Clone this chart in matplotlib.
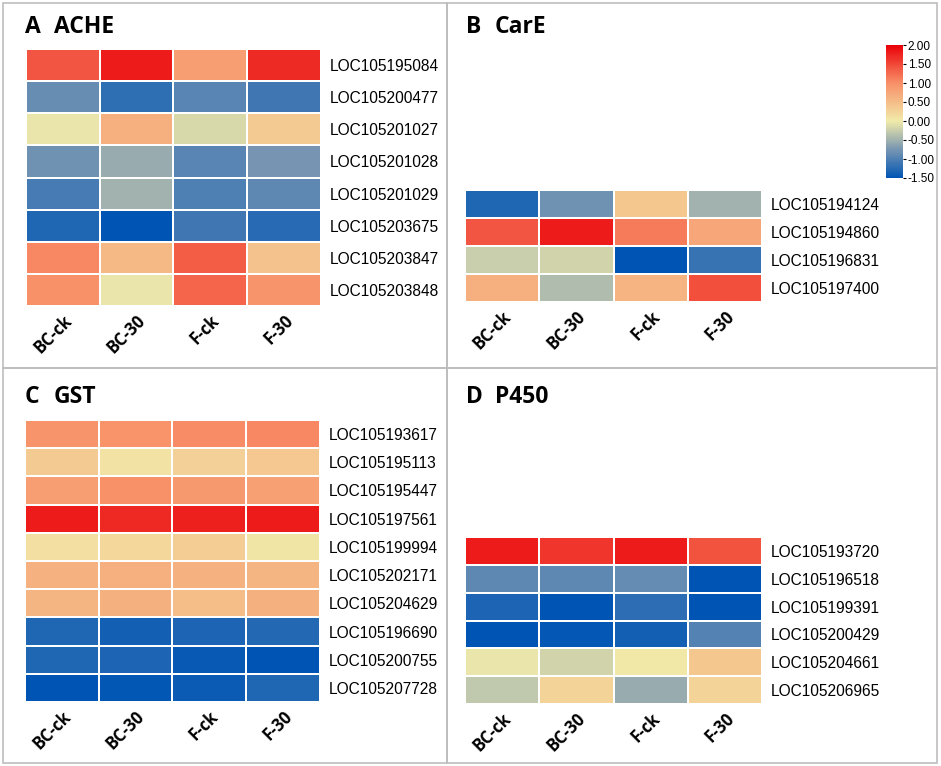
import numpy as np
import matplotlib
matplotlib.use("Agg")
import matplotlib.pyplot as plt
import matplotlib.transforms as mtrans
from matplotlib.colors import LinearSegmentedColormap
from matplotlib.patches import Rectangle

W, H = 941, 766
samples = ["BC-ck", "BC-30", "F-ck", "F-30"]

ache_genes = ["LOC105195084", "LOC105200477", "LOC105201027", "LOC105201028",
              "LOC105201029", "LOC105203675", "LOC105203847", "LOC105203848"]
ache_vals = [[1.40, 1.80, 0.85, 1.70],
             [-0.85, -1.20, -0.95, -1.10],
             [-0.05, 0.65, -0.15, 0.35],
             [-0.80, -0.55, -0.95, -0.75],
             [-1.05, -0.50, -1.00, -0.90],
             [-1.30, -1.50, -1.10, -1.25],
             [1.05, 0.55, 1.35, 0.45],
             [1.00, -0.05, 1.30, 0.95]]

care_genes = ["LOC105194124", "LOC105194860", "LOC105196831", "LOC105197400"]
care_vals = [[-1.30, -0.80, 0.40, -0.50],
             [1.40, 1.80, 1.15, 0.75],
             [-0.25, -0.20, -1.50, -1.15],
             [0.65, -0.40, 0.60, 1.45]]

gst_genes = ["LOC105193617", "LOC105195113", "LOC105195447", "LOC105197561",
             "LOC105199994", "LOC105202171", "LOC105204629", "LOC105196690",
             "LOC105200755", "LOC105207728"]
gst_vals = [[0.95, 0.97, 1.02, 1.05],
            [0.35, 0.08, 0.28, 0.38],
            [0.85, 1.00, 0.90, 0.82],
            [1.80, 1.72, 1.78, 1.80],
            [0.12, 0.22, 0.32, 0.05],
            [0.62, 0.66, 0.62, 0.58],
            [0.58, 0.64, 0.50, 0.64],
            [-1.30, -1.38, -1.32, -1.28],
            [-1.30, -1.32, -1.45, -1.50],
            [-1.50, -1.48, -1.42, -1.30]]

p450_genes = ["LOC105193720", "LOC105196518", "LOC105199391", "LOC105200429",
              "LOC105204661", "LOC105206965"]
p450_vals = [[1.80, 1.62, 1.80, 1.42],
             [-0.90, -0.90, -0.87, -1.50],
             [-1.32, -1.50, -1.22, -1.50],
             [-1.50, -1.47, -1.38, -0.97],
             [-0.05, -0.20, 0.02, 0.40],
             [-0.30, 0.25, -0.55, 0.25]]

cbar_ticks = [-1.5, -1.0, -0.5, 0.0, 0.5, 1.0, 1.5, 2.0]

vmin, vmax = -1.5, 2.0
z = (0 - vmin) / (vmax - vmin)
cmap = LinearSegmentedColormap.from_list(
    "byr", [(0, "#0055b4"), (z * 0.5, "#7896b2"), (z, "#f1eaa9"),
            (z + (1 - z) * 0.5, "#f89068"), (1, "#ea0008")])

fig = plt.figure(figsize=(W / 100, H / 100), dpi=100)


def px(x0, y0, x1, y1):
    return [x0 / W, 1 - y1 / H, (x1 - x0) / W, (y1 - y0) / H]


# panel frames
for (x0, y0, x1, y1) in [(3, 3, 447, 368), (447, 3, 937, 368),
                         (3, 368, 447, 763), (447, 368, 937, 763)]:
    fig.add_artist(Rectangle((x0 / W, 1 - y1 / H), (x1 - x0) / W, (y1 - y0) / H,
                             transform=fig.transFigure, fill=False,
                             edgecolor="#bdbdbd", linewidth=1.2))

shift = mtrans.ScaledTranslation(10 / 100, 0, fig.dpi_scale_trans)


def heat(box, vals, genes, letter, name, title_pos):
    ax = fig.add_axes(px(*box))
    data = np.array(vals)
    m = ax.pcolormesh(data, cmap=cmap, vmin=vmin, vmax=vmax,
                      edgecolors="white", linewidth=1.2)
    ax.set_xlim(0, data.shape[1])
    ax.set_ylim(data.shape[0], 0)
    ax.yaxis.tick_right()
    ax.set_yticks(np.arange(len(genes)) + 0.5)
    ax.set_yticklabels(genes, family="Liberation Sans", fontsize=11.2)
    ax.set_xticks(np.arange(len(samples)) + 0.5)
    ax.set_xticklabels(samples, rotation=45, ha="right", va="top",
                       rotation_mode="anchor", family="Open Sans",
                       fontweight="bold", fontsize=12)
    for lab in ax.get_xticklabels():
        lab.set_transform(lab.get_transform() + shift)
    ax.tick_params(length=0, pad=6)
    ax.tick_params(axis="x", pad=4)
    for s in ax.spines.values():
        s.set_visible(False)
    tx, ty = title_pos
    fig.text(tx / W, 1 - ty / H, letter, family="Open Sans", fontweight="bold",
             fontsize=16.5, va="center")
    fig.text((tx + 29) / W, 1 - ty / H, name, family="Open Sans",
             fontweight="bold", fontsize=16.5, va="center")
    return m


heat((26, 49, 321, 306), ache_vals, ache_genes, "A", "ACHE", (25, 27))
m = heat((465, 190, 762, 302), care_vals, care_genes, "B", "CarE", (466, 27))
heat((25, 420, 320, 702), gst_vals, gst_genes, "C", "GST", (25, 397))
heat((465, 537, 762, 704), p450_vals, p450_genes, "D", "P450", (466, 397))

cax = fig.add_axes(px(886, 45, 903, 178))
cb = fig.colorbar(m, cax=cax, ticks=cbar_ticks)
cb.outline.set_visible(False)
cb.ax.set_yticklabels(["%.2f" % t for t in cbar_ticks], family="Liberation Sans",
                      fontsize=8.5)
cb.ax.tick_params(length=2.5, width=0.8, pad=1)

fig.savefig("out.png", dpi=100)
